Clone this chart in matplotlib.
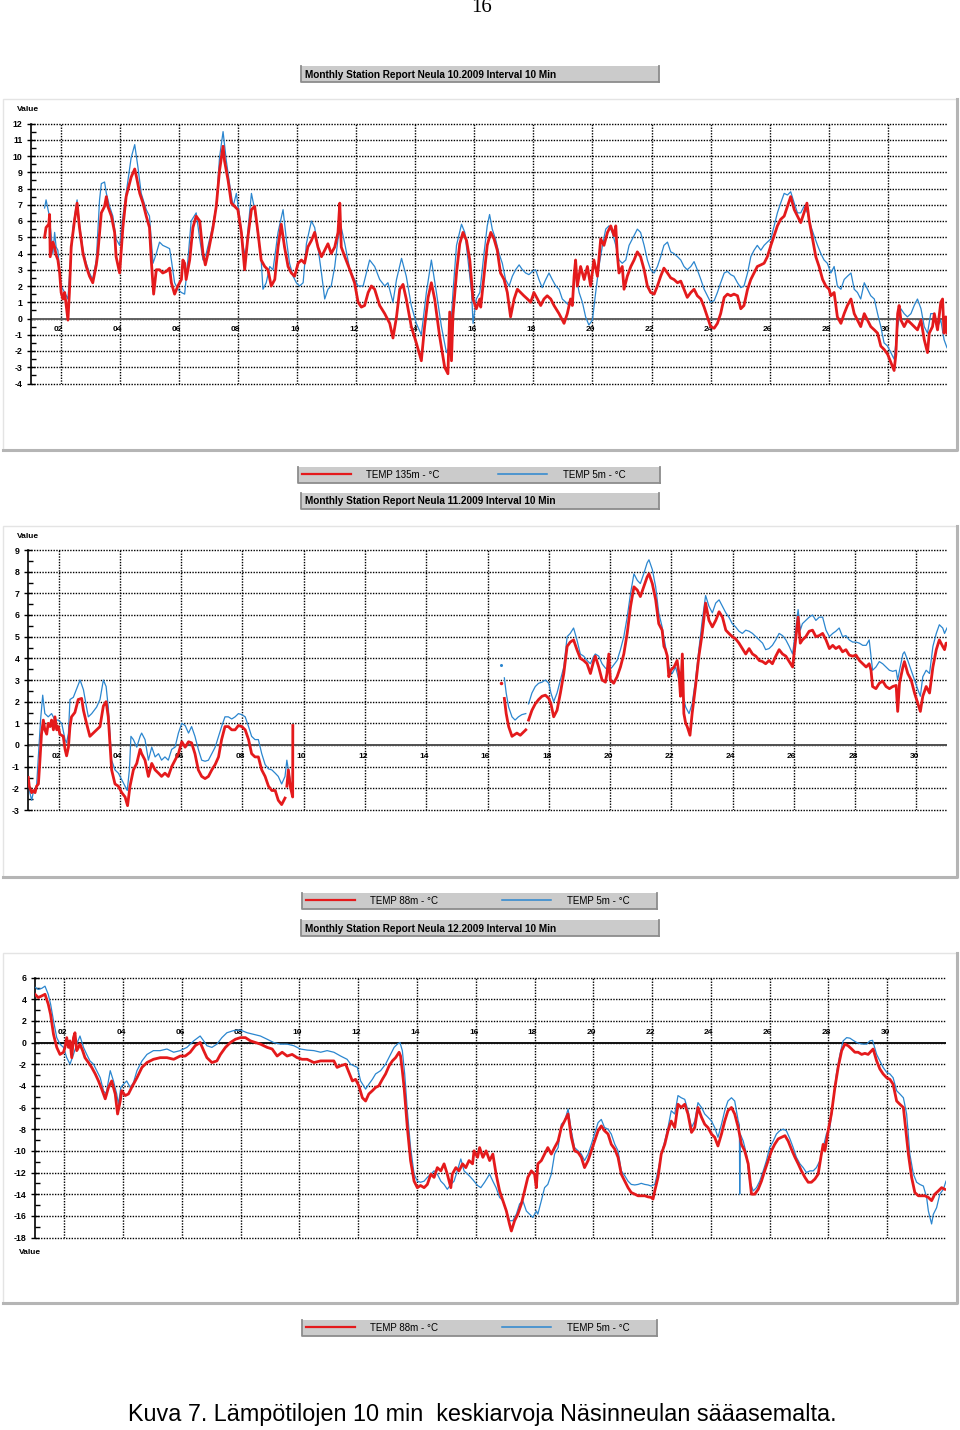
import numpy as np
import matplotlib.pyplot as plt
from matplotlib.patches import Rectangle
from matplotlib.lines import Line2D

nan = float("nan")

# --- lokakuu 2009: TEMP 135m / TEMP 5m  (paiva, arvo)
oct_red = [(1.46,5.0),(1.51,5.6),(1.60,5.8),(1.63,6.4),(1.65,3.8),(1.74,4.7),(1.80,4.4),(1.85,3.9),(1.91,3.6),(1.97,2.8),(2.02,1.6),(2.08,1.2),(2.14,1.6),(2.19,0.8),(2.25,-0.1),(2.30,1.6),(2.36,4.4),(2.47,6.0),(2.56,7.1),(2.64,5.6),(2.76,4.0),(2.87,3.2),(2.98,2.6),(3.09,2.2),(3.21,3.3),(3.26,4.0),(3.38,6.5),(3.49,6.9),(3.55,7.5),(3.60,6.9),(3.72,6.3),(3.83,5.3),(3.88,3.8),(4.00,2.8),(4.11,5.6),(4.22,7.5),(4.39,8.7),(4.51,9.2),(4.56,8.8),(4.68,7.7),(4.79,7.1),(4.90,6.3),(5.01,5.6),(5.07,3.6),(5.15,1.5),(5.24,3.0),(5.35,3.0),(5.46,2.8),(5.58,2.9),(5.69,3.1),(5.75,2.2),(5.86,1.5),(5.97,2.0),(6.09,2.4),(6.14,3.6),(6.20,3.4),(6.25,2.4),(6.37,3.6),(6.48,5.6),(6.59,6.3),(6.71,6.0),(6.82,4.0),(6.90,3.3),(6.99,4.0),(7.16,5.6),(7.27,6.9),(7.38,9.1),(7.50,10.6),(7.55,9.7),(7.67,8.5),(7.78,7.1),(7.89,6.9),(8.00,6.7),(8.12,5.3),(8.23,3.0),(8.34,5.0),(8.46,6.7),(8.57,6.9),(8.68,5.3),(8.79,3.6),(8.91,3.2),(9.02,3.0),(9.13,2.0),(9.25,2.4),(9.36,4.4),(9.47,5.8),(9.58,4.4),(9.70,3.2),(9.81,2.8),(9.92,2.6),(10.04,3.4),(10.15,3.6),(10.26,3.4),(10.37,4.4),(10.49,4.8),(10.60,5.3),(10.71,4.4),(10.83,3.8),(10.94,4.2),(11.05,4.6),(11.16,4.0),(11.28,4.4),(11.39,5.3),(11.45,7.1),(11.50,4.4),(11.62,3.8),(11.79,3.0),(11.95,2.2),(12.07,1.0),(12.18,0.7),(12.29,0.8),(12.41,1.6),(12.52,2.0),(12.63,1.8),(12.80,0.8),(12.97,0.3),(13.14,-0.3),(13.25,-1.2),(13.37,0.1),(13.48,1.8),(13.59,2.1),(13.70,1.2),(13.87,-0.5),(14.04,-1.5),(14.21,-2.6),(14.32,-0.5),(14.44,1.3),(14.55,2.2),(14.66,1.2),(14.83,-1.1),(15.00,-3.0),(15.11,-3.4),(15.17,0.4),(15.23,-2.6),(15.28,0.2),(15.40,2.8),(15.51,4.6),(15.62,5.3),(15.74,4.8),(15.85,3.6),(15.96,1.2),(16.07,0.6),(16.19,1.2),(16.22,0.7),(16.33,2.6),(16.44,4.5),(16.56,5.3),(16.67,4.9),(16.78,4.2),(16.89,2.8),(17.01,2.4),(17.12,1.6),(17.23,0.1),(17.35,1.2),(17.46,1.8),(17.57,1.6),(17.68,1.4),(17.80,1.2),(17.91,1.0),(18.02,1.6),(18.14,1.2),(18.25,0.8),(18.36,1.2),(18.47,1.4),(18.59,1.2),(18.70,0.8),(18.87,0.3),(19.04,-0.3),(19.15,0.3),(19.26,1.2),(19.32,0.8),(19.38,2.6),(19.43,3.6),(19.49,2.0),(19.60,3.2),(19.72,2.4),(19.83,3.2),(19.94,2.0),(20.05,3.6),(20.17,2.6),(20.28,4.9),(20.39,4.5),(20.51,5.3),(20.62,5.7),(20.73,5.1),(20.79,5.7),(20.84,4.0),(20.90,2.8),(21.01,3.2),(21.07,1.8),(21.18,2.6),(21.30,3.2),(21.41,3.6),(21.52,4.1),(21.63,3.8),(21.75,3.0),(21.86,2.0),(21.97,1.6),(22.09,1.5),(22.20,2.0),(22.31,2.6),(22.42,3.1),(22.54,2.8),(22.65,2.5),(22.76,2.4),(22.88,2.2),(22.99,2.3),(23.10,1.8),(23.21,1.3),(23.33,1.6),(23.44,1.8),(23.55,1.4),(23.67,1.2),(23.78,0.7),(23.89,0.1),(24.00,-0.5),(24.12,-0.6),(24.23,-0.3),(24.34,0.3),(24.46,1.3),(24.57,1.5),(24.68,1.4),(24.79,1.5),(24.91,1.4),(25.02,0.6),(25.13,0.8),(25.25,1.8),(25.36,2.4),(25.47,2.8),(25.58,3.2),(25.70,3.3),(25.81,3.4),(25.92,3.8),(26.04,4.5),(26.15,5.1),(26.26,5.7),(26.37,6.1),(26.49,6.3),(26.60,6.9),(26.71,7.5),(26.83,6.7),(26.94,6.3),(27.05,5.9),(27.16,6.5),(27.26,7.1),(27.33,6.1),(27.45,4.9),(27.56,3.8),(27.67,3.2),(27.79,2.4),(27.90,2.0),(28.01,1.8),(28.07,1.4),(28.18,1.6),(28.29,0.1),(28.41,-0.3),(28.52,0.3),(28.63,0.8),(28.75,1.2),(28.86,0.3),(28.97,-0.1),(29.08,-0.5),(29.20,0.3),(29.31,-0.1),(29.42,-0.5),(29.54,-0.7),(29.65,-0.9),(29.76,-1.7),(29.87,-1.9),(29.99,-2.2),(30.10,-2.7),(30.21,-3.2),(30.27,-2.2),(30.33,0.3),(30.38,0.8),(30.44,-0.1),(30.55,-0.5),(30.66,-0.1),(30.78,-0.3),(30.89,-0.5),(31.00,-0.7),(31.12,-0.1),(31.23,-1.3),(31.34,-2.1),(31.40,-0.9),(31.51,-0.5),(31.57,0.3),(31.68,-0.7),(31.79,1.0),(31.85,1.2),(31.90,-0.9),(31.96,0.1),(32.0,-0.9)]

oct_blue = [(1.46,6.8),(1.51,7.3),(1.60,6.5),(1.68,5.2),(1.74,4.0),(1.80,5.3),(1.85,4.4),(1.91,4.2),(1.97,2.8),(2.02,2.0),(2.14,1.6),(2.25,1.2),(2.30,2.6),(2.42,5.6),(2.56,7.3),(2.64,5.8),(2.76,4.2),(2.87,3.4),(2.98,2.8),(3.09,2.4),(3.21,3.6),(3.32,7.3),(3.38,8.3),(3.49,8.4),(3.55,7.7),(3.66,6.9),(3.77,6.3),(3.88,4.9),(4.00,4.5),(4.11,6.3),(4.22,7.7),(4.39,9.9),(4.51,10.7),(4.62,9.3),(4.73,7.7),(4.90,6.7),(5.01,6.3),(5.13,3.4),(5.24,4.0),(5.35,4.7),(5.46,4.5),(5.58,4.4),(5.69,4.3),(5.75,3.6),(5.86,2.2),(5.97,1.8),(6.09,1.6),(6.20,1.5),(6.31,3.6),(6.42,6.0),(6.59,6.5),(6.71,4.9),(6.82,3.6),(6.93,4.0),(7.10,5.3),(7.27,6.9),(7.38,9.9),(7.50,11.5),(7.61,9.7),(7.72,8.3),(7.84,6.9),(7.95,7.7),(8.06,6.3),(8.17,4.5),(8.26,3.8),(8.34,5.4),(8.46,7.7),(8.57,6.7),(8.68,5.1),(8.79,3.6),(8.85,1.8),(8.96,2.2),(9.08,3.2),(9.19,3.0),(9.36,5.3),(9.53,6.7),(9.64,4.9),(9.75,3.4),(9.87,2.6),(9.98,2.2),(10.09,2.0),(10.21,2.2),(10.32,4.6),(10.49,6.0),(10.60,5.6),(10.71,4.4),(10.83,2.8),(10.94,1.2),(11.05,1.8),(11.16,2.0),(11.28,3.2),(11.39,4.9),(11.50,5.6),(11.62,4.6),(11.79,3.0),(11.95,2.4),(12.07,2.0),(12.24,2.0),(12.46,3.6),(12.63,3.2),(12.80,2.4),(12.97,2.0),(13.08,2.2),(13.25,1.0),(13.37,2.4),(13.54,3.7),(13.70,2.6),(13.87,0.8),(14.04,-0.3),(14.21,-1.0),(14.38,1.6),(14.55,3.6),(14.72,1.6),(14.89,-0.5),(15.06,-2.1),(15.17,-1.7),(15.28,1.6),(15.40,4.5),(15.57,5.8),(15.68,5.3),(15.79,3.6),(15.91,1.6),(15.96,-0.3),(16.07,1.2),(16.19,1.6),(16.33,4.0),(16.44,5.7),(16.52,6.4),(16.61,5.5),(16.72,4.9),(16.84,4.0),(16.95,3.4),(17.06,2.4),(17.18,2.0),(17.29,2.6),(17.40,3.0),(17.52,3.3),(17.63,3.0),(17.74,2.8),(17.85,2.7),(17.97,2.9),(18.08,3.0),(18.19,2.4),(18.30,1.9),(18.42,2.4),(18.53,2.8),(18.64,2.4),(18.76,2.0),(18.87,1.8),(18.98,1.2),(19.10,1.0),(19.21,0.8),(19.32,1.2),(19.43,2.8),(19.55,1.6),(19.66,1.0),(19.77,0.1),(19.88,-0.4),(20.00,-0.1),(20.11,1.6),(20.22,3.2),(20.34,4.5),(20.45,5.5),(20.56,5.7),(20.67,5.3),(20.79,4.5),(20.90,3.6),(21.01,3.4),(21.13,3.6),(21.24,4.5),(21.41,5.1),(21.52,5.5),(21.63,5.3),(21.75,4.5),(21.86,3.6),(21.97,3.0),(22.09,2.8),(22.20,3.2),(22.31,3.8),(22.42,4.5),(22.54,4.7),(22.65,4.1),(22.76,4.0),(22.88,3.8),(22.99,3.6),(23.10,3.2),(23.21,3.0),(23.33,3.2),(23.44,3.5),(23.55,3.0),(23.67,2.4),(23.78,1.8),(23.89,1.4),(24.00,1.0),(24.12,1.1),(24.23,1.6),(24.34,2.2),(24.46,2.8),(24.57,2.9),(24.68,2.7),(24.79,2.6),(24.91,2.2),(25.02,1.9),(25.13,2.0),(25.25,2.8),(25.36,3.8),(25.47,4.2),(25.58,4.5),(25.70,4.2),(25.81,4.5),(25.92,4.7),(26.04,4.9),(26.15,5.7),(26.26,6.5),(26.37,7.1),(26.49,7.7),(26.60,7.6),(26.71,7.8),(26.83,7.1),(26.94,6.5),(27.05,6.5),(27.16,6.9),(27.28,6.5),(27.39,5.7),(27.50,5.1),(27.62,4.5),(27.73,4.0),(27.84,3.6),(27.95,3.4),(28.07,2.8),(28.18,3.2),(28.29,2.0),(28.41,1.8),(28.52,2.4),(28.63,2.6),(28.75,2.8),(28.86,1.8),(28.97,1.6),(29.08,1.2),(29.20,2.2),(29.31,1.8),(29.42,1.4),(29.54,1.2),(29.65,0.3),(29.76,-0.5),(29.87,-1.5),(29.99,-1.7),(30.10,-2.1),(30.21,-2.5),(30.33,-0.5),(30.44,0.6),(30.55,0.3),(30.66,0.1),(30.78,0.3),(30.89,0.8),(31.00,1.2),(31.12,0.6),(31.23,-0.5),(31.34,-0.9),(31.45,0.3),(31.57,0.3),(31.68,-0.5),(31.79,-0.1),(31.90,-1.3),(32.0,-1.8)]

# --- marraskuu 2009: TEMP 88m / TEMP 5m (katkot = nan)
nov_red = [(1.01,-1.5),(1.04,-1.9),(1.12,-2.2),(1.17,-2.1),(1.23,-2.2),(1.28,-1.9),(1.34,-1.8),(1.39,-0.7),(1.44,0.5),(1.50,1.15),(1.55,0.7),(1.61,0.5),(1.66,1.0),(1.72,0.85),(1.77,1.15),(1.83,0.7),(1.88,1.3),(1.94,0.7),(1.99,0.85),(2.04,0.5),(2.15,0.4),(2.21,-0.2),(2.26,-0.5),(2.32,-0.1),(2.37,0.85),(2.42,1.3),(2.53,1.5),(2.64,2.1),(2.75,2.15),(2.81,1.6),(2.91,1.0),(3.02,0.4),(3.13,0.55),(3.24,0.7),(3.35,0.85),(3.46,1.8),(3.55,2.0),(3.62,1.3),(3.73,-1.15),(3.84,-1.8),(3.95,-1.9),(4.06,-2.2),(4.17,-2.4),(4.25,-2.8),(4.33,-1.9),(4.44,-1.15),(4.55,-0.85),(4.66,-0.2),(4.71,-0.4),(4.82,-0.7),(4.93,-1.45),(5.04,-0.85),(5.15,-1.15),(5.26,-1.3),(5.36,-1.45),(5.47,-1.3),(5.58,-1.45),(5.69,-1.0),(5.80,-0.7),(5.91,-0.4),(6.02,0.15),(6.13,-0.1),(6.24,0.15),(6.34,0.1),(6.45,-0.4),(6.56,-1.15),(6.67,-1.45),(6.78,-1.55),(6.89,-1.45),(7.00,-1.15),(7.11,-0.9),(7.22,-0.55),(7.32,0.25),(7.43,0.85),(7.54,0.85),(7.65,0.7),(7.76,0.7),(7.87,0.9),(7.98,0.85),(8.09,0.7),(8.20,0.25),(8.30,-0.4),(8.41,-0.55),(8.52,-0.55),(8.63,-1.15),(8.74,-1.45),(8.85,-1.9),(8.96,-2.1),(9.07,-2.1),(9.17,-2.55),(9.28,-2.75),(9.39,-2.45),(9.42,nan),(9.45,-1.9),(9.50,-1.15),(9.56,-1.9),(9.61,-2.2),(9.64,-2.4),(9.645,0.9),(9.65,nan),(16.55,2.15),(16.61,1.45),(16.69,0.85),(16.80,0.4),(16.85,0.45),(16.96,0.55),(17.07,0.45),(17.18,0.6),(17.25,0.7),(17.30,nan),(17.34,1.15),(17.45,1.6),(17.56,1.9),(17.67,2.1),(17.78,2.25),(17.89,2.3),(18.00,2.15),(18.07,1.9),(18.16,1.3),(18.27,1.6),(18.38,2.4),(18.49,3.3),(18.60,4.55),(18.70,4.75),(18.81,4.85),(18.92,4.4),(19.03,4.0),(19.14,3.9),(19.25,3.75),(19.36,3.3),(19.47,3.9),(19.52,4.1),(19.63,3.6),(19.74,3.0),(19.85,2.9),(19.90,3.3),(19.96,4.2),(20.01,3.0),(20.12,2.85),(20.23,3.15),(20.34,3.6),(20.45,4.2),(20.56,5.15),(20.67,6.4),(20.78,7.3),(20.89,7.15),(20.99,6.85),(21.10,7.3),(21.21,7.75),(21.27,7.9),(21.38,7.45),(21.49,6.7),(21.59,5.6),(21.70,5.3),(21.76,4.55),(21.81,4.4),(21.87,4.1),(21.92,3.15),(21.98,3.45),(22.09,3.6),(22.19,3.9),(22.25,3.3),(22.30,2.25),(22.36,4.2),(22.41,1.45),(22.47,1.0),(22.52,0.85),(22.61,0.45),(22.68,1.45),(22.79,2.7),(22.90,4.1),(23.01,5.15),(23.12,6.55),(23.23,5.75),(23.34,5.45),(23.45,5.75),(23.56,6.15),(23.67,5.9),(23.78,5.3),(23.88,5.15),(23.99,5.0),(24.10,4.9),(24.21,4.7),(24.32,4.45),(24.43,4.2),(24.54,4.45),(24.65,4.2),(24.76,4.1),(24.87,3.9),(24.98,3.85),(25.08,3.75),(25.19,3.9),(25.30,3.75),(25.41,4.1),(25.52,4.4),(25.63,4.2),(25.74,4.1),(25.85,3.85),(25.96,3.6),(26.07,5.0),(26.14,5.9),(26.21,4.7),(26.28,4.85),(26.39,5.0),(26.50,5.25),(26.61,5.3),(26.72,5.0),(26.83,5.05),(26.94,5.15),(27.05,4.85),(27.16,4.45),(27.27,4.6),(27.37,4.45),(27.48,4.55),(27.59,4.3),(27.70,4.4),(27.81,4.15),(27.92,4.1),(28.03,4.15),(28.14,3.9),(28.25,3.75),(28.36,3.6),(28.46,3.75),(28.52,3.45),(28.57,2.7),(28.68,2.6),(28.79,2.85),(28.90,2.95),(29.01,2.7),(29.12,2.6),(29.23,2.7),(29.34,2.75),(29.39,1.55),(29.45,2.85),(29.56,3.6),(29.61,3.85),(29.72,3.3),(29.83,3.0),(29.94,2.4),(30.05,1.9),(30.13,1.55),(30.21,2.25),(30.32,2.7),(30.43,2.4),(30.54,3.6),(30.65,4.4),(30.75,4.85),(30.86,4.55),(30.92,4.4),(30.97,4.7),(31.0,4.7)]

nov_blue = [(1.01,-1.6),(1.06,-2.2),(1.12,-2.55),(1.17,-2.2),(1.28,-1.9),(1.37,0.25),(1.41,1.15),(1.48,2.3),(1.55,1.45),(1.66,1.3),(1.77,1.45),(1.88,1.15),(1.99,1.15),(2.10,1.0),(2.21,0.25),(2.26,0.1),(2.32,0.55),(2.37,2.1),(2.48,2.2),(2.59,2.6),(2.70,3.0),(2.81,2.55),(2.91,1.75),(2.97,1.3),(3.08,1.45),(3.24,1.75),(3.35,2.1),(3.46,3.0),(3.55,2.7),(3.62,1.75),(3.73,-0.7),(3.84,-1.15),(3.95,-1.3),(4.06,-1.6),(4.17,-1.9),(4.24,-2.1),(4.31,-1.15),(4.36,0.4),(4.44,0.25),(4.55,-0.1),(4.66,0.4),(4.71,0.55),(4.82,0.25),(4.93,-0.7),(5.04,-0.1),(5.15,-0.55),(5.26,-0.4),(5.36,-0.7),(5.47,-0.55),(5.58,-0.7),(5.69,-0.2),(5.80,-0.1),(5.91,0.55),(6.02,1.0),(6.13,0.9),(6.24,0.55),(6.34,0.85),(6.45,0.4),(6.56,-0.2),(6.67,-0.7),(6.78,-0.75),(6.89,-0.7),(7.00,-0.4),(7.11,-0.1),(7.22,0.4),(7.32,0.85),(7.43,1.3),(7.54,1.3),(7.65,1.2),(7.76,1.3),(7.87,1.45),(7.98,1.4),(8.09,1.3),(8.20,0.85),(8.30,0.4),(8.41,0.25),(8.52,0.25),(8.63,-0.4),(8.74,-0.9),(8.85,-1.1),(8.96,-1.15),(9.07,-1.3),(9.17,-1.45),(9.28,-1.8),(9.39,-1.45),(9.45,-0.7),(9.50,-1.15),(9.56,-1.6),(9.61,-2.1),(9.65,nan),(16.55,3.1),(16.61,2.4),(16.69,1.75),(16.80,1.3),(16.90,1.15),(17.01,1.3),(17.12,1.4),(17.25,1.45),(17.30,nan),(17.34,1.9),(17.45,2.4),(17.56,2.7),(17.67,2.85),(17.78,2.9),(17.89,3.0),(18.00,2.85),(18.07,2.4),(18.16,2.0),(18.27,2.4),(18.38,3.0),(18.49,3.6),(18.60,5.0),(18.70,5.15),(18.81,5.4),(18.92,4.85),(19.03,4.2),(19.14,4.1),(19.25,3.9),(19.36,3.75),(19.47,4.1),(19.52,4.2),(19.63,4.1),(19.74,3.75),(19.85,3.55),(19.96,3.45),(20.07,3.6),(20.23,3.9),(20.34,4.4),(20.45,5.0),(20.56,5.9),(20.67,7.0),(20.78,7.9),(20.89,7.6),(20.99,7.45),(21.10,7.9),(21.21,8.4),(21.27,8.55),(21.38,8.1),(21.49,7.3),(21.59,6.1),(21.70,5.45),(21.81,4.55),(21.92,3.6),(22.03,3.3),(22.14,3.6),(22.25,3.0),(22.36,2.4),(22.47,1.75),(22.58,1.45),(22.68,1.9),(22.79,3.0),(22.90,4.4),(23.01,5.75),(23.12,6.9),(23.23,6.4),(23.34,6.1),(23.45,6.55),(23.56,6.7),(23.67,6.4),(23.78,6.1),(23.88,5.9),(23.99,5.6),(24.10,5.45),(24.21,5.25),(24.32,5.15),(24.43,5.3),(24.54,5.25),(24.65,5.15),(24.76,5.0),(24.87,4.85),(24.98,4.7),(25.08,4.4),(25.19,4.45),(25.30,4.6),(25.41,4.85),(25.52,5.15),(25.63,5.05),(25.74,4.85),(25.85,4.55),(25.96,4.2),(26.07,5.45),(26.14,6.25),(26.21,5.3),(26.28,5.6),(26.39,5.75),(26.50,5.9),(26.61,6.0),(26.72,5.75),(26.83,5.9),(26.94,5.9),(27.05,5.3),(27.16,5.0),(27.27,5.15),(27.37,5.25),(27.48,5.4),(27.59,5.0),(27.70,5.05),(27.81,4.85),(27.92,4.75),(28.03,4.75),(28.14,4.7),(28.25,4.6),(28.36,4.6),(28.46,4.85),(28.52,4.1),(28.57,3.45),(28.68,3.6),(28.79,3.85),(28.90,3.75),(29.01,3.6),(29.12,3.45),(29.23,3.4),(29.34,3.45),(29.39,3.0),(29.45,3.45),(29.56,4.2),(29.61,4.3),(29.72,3.9),(29.83,3.45),(29.94,3.0),(30.05,2.55),(30.13,2.25),(30.21,3.15),(30.32,3.45),(30.43,3.3),(30.54,4.55),(30.65,5.15),(30.75,5.55),(30.86,5.4),(30.92,5.15),(31.0,5.4)]

nov_red_dot = (16.44, 2.85)
nov_blue_dot = (16.44, 3.7)

# --- joulukuu 2009: TEMP 88m / TEMP 5m
dec_red = [(1.00,4.45),(1.11,4.15),(1.23,4.3),(1.34,4.45),(1.45,3.55),(1.53,2.6),(1.63,0.75),(1.74,-0.45),(1.85,-1.1),(1.97,-0.9),(2.02,-0.45),(2.08,0.45),(2.14,-0.45),(2.19,0.15),(2.25,-1.4),(2.31,0.45),(2.36,0.9),(2.42,-0.75),(2.48,-0.45),(2.53,-0.15),(2.62,-0.75),(2.70,-1.4),(2.82,-1.85),(2.93,-2.3),(3.05,-2.9),(3.16,-3.55),(3.27,-4.3),(3.39,-5.2),(3.50,-4.15),(3.61,-3.55),(3.73,-4.75),(3.81,-6.6),(3.90,-5.4),(3.95,-4.45),(4.07,-4.9),(4.18,-4.75),(4.29,-4.15),(4.47,-3.25),(4.64,-2.3),(4.81,-1.85),(5.03,-1.55),(5.26,-1.4),(5.49,-1.4),(5.72,-1.55),(5.94,-1.25),(6.11,-1.25),(6.28,-0.9),(6.45,-0.3),(6.62,0.0),(6.74,-0.75),(6.85,-1.4),(7.02,-1.85),(7.19,-1.7),(7.31,-1.1),(7.48,-0.45),(7.65,0.0),(7.82,0.3),(7.99,0.45),(8.16,0.45),(8.33,0.15),(8.50,0.0),(8.67,-0.15),(8.90,-0.45),(9.07,-0.6),(9.24,-1.25),(9.41,-0.9),(9.58,-1.25),(9.75,-1.1),(9.92,-1.4),(10.09,-1.55),(10.26,-1.55),(10.49,-1.85),(10.72,-1.7),(10.94,-1.7),(11.17,-1.7),(11.28,-2.3),(11.40,-2.15),(11.57,-2.0),(11.68,-2.75),(11.80,-3.55),(11.91,-3.4),(12.02,-4.0),(12.14,-5.1),(12.25,-5.4),(12.36,-4.75),(12.48,-4.45),(12.59,-4.15),(12.70,-4.0),(12.82,-3.4),(12.93,-2.9),(13.05,-2.15),(13.16,-1.7),(13.27,-1.4),(13.39,-0.9),(13.44,-1.25),(13.50,-2.6),(13.56,-4.15),(13.67,-7.85),(13.78,-10.9),(13.90,-12.8),(14.01,-13.4),(14.12,-13.2),(14.24,-13.4),(14.35,-13.1),(14.47,-12.15),(14.58,-12.45),(14.69,-11.55),(14.81,-11.85),(14.92,-11.2),(15.03,-12.15),(15.15,-13.4),(15.20,-12.15),(15.32,-11.55),(15.43,-11.85),(15.55,-11.2),(15.66,-11.55),(15.77,-10.9),(15.89,-11.2),(15.94,-10.0),(16.06,-10.6),(16.13,-9.7),(16.24,-10.6),(16.35,-10.0),(16.47,-10.9),(16.58,-10.3),(16.69,-12.15),(16.81,-13.7),(16.92,-14.6),(17.04,-15.55),(17.15,-16.8),(17.21,-17.4),(17.32,-16.45),(17.43,-15.85),(17.55,-14.9),(17.66,-13.7),(17.77,-12.45),(17.89,-11.85),(18.00,-12.15),(18.06,-13.4),(18.11,-11.2),(18.23,-10.9),(18.34,-10.3),(18.45,-9.7),(18.57,-10.3),(18.68,-9.7),(18.80,-9.1),(18.91,-7.85),(19.02,-7.25),(19.14,-6.6),(19.25,-8.75),(19.36,-10.0),(19.48,-10.15),(19.59,-10.6),(19.70,-11.55),(19.82,-10.9),(19.93,-10.0),(20.04,-9.1),(20.16,-8.15),(20.27,-7.7),(20.38,-8.15),(20.50,-8.45),(20.61,-9.4),(20.73,-9.85),(20.84,-10.6),(20.95,-12.15),(21.07,-12.8),(21.18,-13.4),(21.29,-13.85),(21.41,-14.0),(21.52,-14.15),(21.63,-14.15),(21.75,-14.15),(21.86,-14.25),(21.97,-14.3),(22.03,-14.45),(22.09,-13.7),(22.20,-12.45),(22.31,-10.3),(22.43,-9.4),(22.54,-8.15),(22.65,-7.25),(22.77,-7.85),(22.88,-5.7),(22.99,-6.0),(23.11,-5.7),(23.22,-6.6),(23.34,-8.3),(23.45,-7.85),(23.56,-6.0),(23.68,-6.9),(23.79,-7.55),(23.90,-7.85),(24.02,-8.45),(24.13,-8.75),(24.24,-9.55),(24.36,-8.45),(24.47,-7.25),(24.58,-6.3),(24.70,-6.0),(24.81,-6.6),(24.93,-7.85),(25.04,-9.4),(25.15,-10.0),(25.27,-11.2),(25.38,-14.0),(25.49,-14.0),(25.61,-13.55),(25.72,-12.8),(25.83,-11.85),(25.95,-10.9),(26.06,-10.0),(26.17,-9.4),(26.29,-8.9),(26.40,-8.75),(26.52,-8.6),(26.63,-9.1),(26.74,-9.85),(26.86,-10.6),(26.97,-11.2),(27.08,-11.85),(27.20,-12.45),(27.31,-12.9),(27.42,-12.9),(27.54,-12.6),(27.65,-12.15),(27.76,-10.3),(27.82,-9.4),(27.88,-10.0),(27.99,-8.15),(28.10,-6.6),(28.22,-4.15),(28.33,-2.3),(28.45,-0.75),(28.56,-0.15),(28.67,-0.3),(28.79,-0.6),(28.90,-0.9),(29.01,-0.9),(29.13,-1.1),(29.24,-1.0),(29.35,-1.1),(29.47,-0.75),(29.52,-0.6),(29.64,-1.7),(29.75,-2.45),(29.86,-2.9),(29.98,-3.25),(30.09,-3.4),(30.20,-3.85),(30.32,-5.4),(30.43,-5.7),(30.55,-6.0),(30.60,-7.25),(30.72,-10.3),(30.83,-12.45),(30.94,-13.85),(31.06,-14.15),(31.17,-14.15),(31.28,-14.15),(31.40,-14.3),(31.51,-14.6),(31.62,-14.0),(31.74,-13.7),(31.85,-13.4),(31.96,-13.55)]

dec_blue = [(1.00,5.1),(1.11,4.9),(1.23,5.0),(1.34,5.2),(1.45,4.45),(1.53,3.55),(1.63,2.0),(1.74,0.45),(1.85,-0.15),(1.97,-0.45),(2.08,-1.4),(2.19,-2.0),(2.31,-1.1),(2.42,-0.15),(2.53,0.6),(2.65,-0.45),(2.76,-1.1),(2.87,-1.7),(2.99,-2.0),(3.10,-2.6),(3.22,-3.25),(3.33,-4.45),(3.42,-4.75),(3.50,-3.55),(3.56,-2.6),(3.67,-3.55),(3.78,-4.75),(3.84,-5.7),(3.92,-4.15),(4.01,-3.85),(4.12,-3.55),(4.24,-4.15),(4.35,-3.7),(4.47,-2.6),(4.64,-1.7),(4.81,-1.1),(5.03,-0.75),(5.26,-0.75),(5.49,-0.6),(5.72,-0.9),(5.94,-0.75),(6.17,-0.45),(6.40,0.15),(6.62,0.6),(6.74,0.15),(6.85,-0.3),(7.02,-0.45),(7.19,-0.15),(7.36,0.45),(7.53,0.9),(7.76,1.1),(7.99,1.15),(8.22,0.9),(8.44,0.75),(8.67,0.6),(8.90,0.3),(9.12,0.0),(9.35,-0.15),(9.58,-0.15),(9.81,-0.3),(10.03,-0.6),(10.26,-0.7),(10.49,-0.75),(10.72,-0.9),(10.94,-0.75),(11.17,-0.9),(11.40,-1.25),(11.62,-1.55),(11.74,-2.0),(11.85,-2.15),(11.97,-2.3),(12.08,-3.55),(12.25,-4.3),(12.36,-3.85),(12.48,-3.4),(12.59,-2.9),(12.76,-2.6),(12.93,-2.0),(13.10,-1.1),(13.22,-0.45),(13.33,-0.15),(13.42,0.0),(13.50,-0.75),(13.58,-2.9),(13.67,-6.3),(13.78,-9.7),(13.90,-12.15),(14.01,-12.8),(14.12,-12.9),(14.24,-12.8),(14.35,-12.45),(14.47,-12.15),(14.58,-11.85),(14.69,-12.15),(14.81,-12.8),(14.92,-13.1),(15.03,-13.55),(15.15,-13.1),(15.26,-12.8),(15.37,-11.85),(15.49,-10.75),(15.60,-11.85),(15.72,-12.15),(15.83,-12.45),(15.94,-12.8),(16.06,-13.2),(16.17,-13.4),(16.30,-12.9),(16.47,-12.15),(16.58,-12.8),(16.69,-13.4),(16.81,-14.3),(16.92,-14.6),(17.04,-15.55),(17.15,-16.45),(17.26,-16.45),(17.38,-15.85),(17.49,-14.9),(17.60,-14.6),(17.72,-15.55),(17.83,-15.85),(17.94,-16.15),(18.06,-15.55),(18.11,-15.85),(18.23,-14.6),(18.34,-13.4),(18.45,-13.1),(18.57,-12.15),(18.68,-10.3),(18.80,-9.7),(18.91,-7.55),(19.02,-7.25),(19.14,-6.15),(19.25,-8.15),(19.36,-9.7),(19.48,-10.0),(19.59,-10.3),(19.70,-10.9),(19.82,-10.3),(19.93,-9.4),(20.04,-8.45),(20.16,-7.4),(20.27,-7.1),(20.38,-7.85),(20.50,-8.0),(20.61,-8.45),(20.73,-9.4),(20.84,-10.0),(20.95,-11.85),(21.07,-12.3),(21.18,-12.8),(21.29,-13.1),(21.41,-13.15),(21.52,-13.1),(21.63,-13.0),(21.75,-13.1),(21.86,-13.15),(21.97,-13.25),(22.09,-13.1),(22.20,-11.85),(22.31,-10.3),(22.43,-9.1),(22.54,-7.85),(22.65,-6.3),(22.77,-6.6),(22.88,-4.9),(22.99,-5.1),(23.11,-5.25),(23.22,-6.3),(23.34,-7.85),(23.45,-7.25),(23.56,-5.55),(23.68,-6.0),(23.79,-6.6),(23.90,-6.9),(24.02,-7.25),(24.13,-7.85),(24.24,-8.75),(24.36,-7.55),(24.47,-6.3),(24.58,-5.4),(24.70,-5.1),(24.81,-5.4),(24.93,-7.25),(24.97,-7.6),(24.98,-14.0),(25.00,-8.45),(25.10,-9.1),(25.21,-10.3),(25.32,-12.8),(25.44,-13.7),(25.55,-13.4),(25.66,-12.8),(25.78,-11.85),(25.89,-10.9),(26.00,-9.7),(26.12,-9.1),(26.23,-8.45),(26.34,-8.15),(26.46,-8.0),(26.57,-8.15),(26.69,-8.9),(26.80,-9.7),(26.91,-10.6),(27.03,-11.2),(27.14,-11.55),(27.25,-12.0),(27.37,-11.85),(27.48,-11.85),(27.59,-11.55),(27.71,-10.9),(27.82,-9.7),(27.93,-8.45),(28.05,-7.85),(28.16,-5.4),(28.27,-2.9),(28.39,-1.1),(28.50,0.15),(28.62,0.45),(28.73,0.4),(28.84,0.2),(28.96,0.0),(29.07,-0.1),(29.18,-0.15),(29.30,-0.15),(29.41,0.15),(29.50,0.2),(29.64,-1.1),(29.75,-1.7),(29.86,-2.3),(29.98,-2.75),(30.09,-2.9),(30.20,-3.25),(30.32,-4.45),(30.43,-4.75),(30.55,-5.1),(30.66,-6.6),(30.77,-10.3),(30.89,-12.15),(31.00,-12.9),(31.11,-13.1),(31.23,-13.25),(31.34,-14.3),(31.40,-15.55),(31.51,-16.75),(31.57,-15.85),(31.68,-15.25),(31.79,-14.0),(31.91,-13.55),(32.0,-12.8)]

titles = ["Monthly Station Report Neula 10.2009 Interval 10 Min",
          "Monthly Station Report Neula 11.2009 Interval 10 Min",
          "Monthly Station Report Neula 12.2009 Interval 10 Min"]
legend_red = ["TEMP 135m - °C", "TEMP 88m - °C", "TEMP 88m - °C"]
legend_blue = "TEMP 5m - °C"
day_ticks = list(range(2, 31, 2))
caption = "Kuva 7. Lämpötilojen 10 min  keskiarvoja Näsinneulan sääasemalta."

RED = "#e41a1c"
BLUE = "#2b86cf"
SANS = ["Liberation Sans", "DejaVu Sans"]
plt.rcParams["font.family"] = SANS
plt.rcParams["axes.unicode_minus"] = False

W, H = 960, 1430
fig = plt.figure(figsize=(W / 100, H / 100), dpi=100)


def box(x0, y0, x1, y1):
    # pikselit -> figuurin osuudet
    return [x0 / W, 1 - y1 / H, (x1 - x0) / W, (y1 - y0) / H]


def rect(x0, y0, x1, y1, **kw):
    b = box(x0, y0, x1, y1)
    fig.add_artist(Rectangle((b[0], b[1]), b[2], b[3], transform=fig.transFigure, **kw))


def hline(x0, x1, y, **kw):
    fig.add_artist(Line2D([x0 / W, x1 / W], [1 - y / H, 1 - y / H], transform=fig.transFigure, **kw))


def grey_box(x0, y0, x1, y1):
    rect(x0, y0, x1, y1, facecolor="#cbcbcb", edgecolor="none")
    fig.add_artist(Line2D([x0 / W, x0 / W, x1 / W], [1 - y0 / H, 1 - y1 / H, 1 - y1 / H],
                          transform=fig.transFigure, color="#8c8c8c", lw=1.3))
    fig.add_artist(Line2D([x1 / W, x1 / W], [1 - y0 / H, 1 - y1 / H],
                          transform=fig.transFigure, color="#8c8c8c", lw=1.3))


def panel(frame, plot, ylim, ystep, red, blue, title_y, legend_y, labels,
          leg_x, lab_off, value_xy, zero_col):
    fx0, fy0, fx1, fy1 = frame
    rect(fx0, fy0, fx1, fy1, facecolor="white", edgecolor="#e4e4e4", lw=1, zorder=-5)
    fig.add_artist(Line2D([fx1 / W, fx1 / W, fx0 / W], [1 - fy0 / H, 1 - fy1 / H, 1 - fy1 / H],
                          transform=fig.transFigure, color="#b5b5b5", lw=2.2, zorder=-4))

    # otsikko
    grey_box(301, title_y, 659, title_y + 16)
    fig.text(305 / W, 1 - (title_y + 8.5) / H, labels[0], fontsize=7.2, fontweight="bold",
             va="center", ha="left")

    # selite
    lx0, lx1 = leg_x
    grey_box(lx0, legend_y, lx1, legend_y + 16)
    ly = legend_y + 7
    hline(lx0 + 4, lx0 + 53, ly, color=RED, lw=1.6)
    fig.text((lx0 + 68) / W, 1 - (ly + 1) / H, labels[1], fontsize=7, va="center")
    hline(lx0 + 200, lx0 + 249, ly, color=BLUE, lw=1.1)
    fig.text((lx0 + 265) / W, 1 - (ly + 1) / H, legend_blue, fontsize=7, va="center")

    ax = fig.add_axes(box(*plot[:4]))
    ax.set_zorder(2)
    ax.set_xlim(1, plot[4])
    ax.set_ylim(*ylim)
    ax.patch.set_alpha(0)
    for s in ["top", "right", "bottom"]:
        ax.spines[s].set_visible(False)
    ax.spines["left"].set_linewidth(1.2)

    for v in range(ylim[0], ylim[1] + 1, ystep):
        ax.axhline(v, color="black", lw=1.0, ls=(0, (1, 1)), zorder=1, clip_on=False)
    for d in day_ticks:
        ax.axvline(d, color="black", lw=1.0, ls=(0, (1, 1)), zorder=1)
    ax.axhline(0, color=zero_col, lw=1.4, zorder=2)

    ax.set_xticks([])
    for d in day_ticks:
        ax.annotate("%02d" % d, (d, 0), xytext=(-1.5, lab_off), textcoords="offset points",
                    ha="center", va="center", fontsize=6, fontweight="bold", zorder=3)

    ax.set_yticks(range(ylim[0], ylim[1] + 1, ystep))
    ax.set_yticks(np.arange(ylim[0] + ystep / 2, ylim[1], ystep), minor=True)
    ax.tick_params(axis="y", which="major", direction="inout", length=6, width=1,
                   labelsize=6.3, pad=3)
    ax.tick_params(axis="y", which="minor", direction="in", length=3.5, width=1)
    for t in ax.get_yticklabels():
        t.set_fontweight("bold")

    bx, by = zip(*blue)
    rx, ry = zip(*red)
    ax.plot(bx, by, color=BLUE, lw=0.9, zorder=4)
    ax.plot(rx, ry, color=RED, lw=2.0, zorder=5)

    fig.text(value_xy[0] / W, 1 - value_xy[1] / H, "Value", fontsize=6, fontweight="bold",
             ha="center", va="center")
    return ax


ax1 = panel((3, 99, 957, 450), (31, 123.5, 947, 383.5, 32), (-4, 12), 1, oct_red, oct_blue,
            66, 466.5, (titles[0], legend_red[0]), (298, 660), -8, (28, 109.5), "#606060")

ax2 = panel((3, 526, 957, 877), (28, 550, 947, 810, 31), (-3, 9), 1, nov_red, nov_blue,
            492.5, 893, (titles[1], legend_red[1]), (302, 657), -8.5, (28, 536.5), "#505050")
ax2.plot([nov_red_dot[0]], [nov_red_dot[1]], "o", color=RED, ms=1.5, zorder=5)
ax2.plot([nov_blue_dot[0]], [nov_blue_dot[1]], "o", color=BLUE, ms=1.2, zorder=5)

ax3 = panel((3, 953, 957, 1303), (35, 977.5, 946, 1237.5, 32), (-18, 6), 2, dec_red, dec_blue,
            920, 1320, (titles[2], legend_red[2]), (302, 657), 7.2, (30, 1252), "#111111")

fig.text(482 / W, 1 - 8 / H, "16", fontsize=15, family=["Liberation Serif", "DejaVu Serif"],
         ha="center", va="center")
fig.text(482 / W, 1 - 1415 / H, caption, fontsize=16.8,
         family=["Liberation Sans", "DejaVu Sans"], ha="center", va="center")

fig.savefig("out.png", dpi=100, facecolor="white")
